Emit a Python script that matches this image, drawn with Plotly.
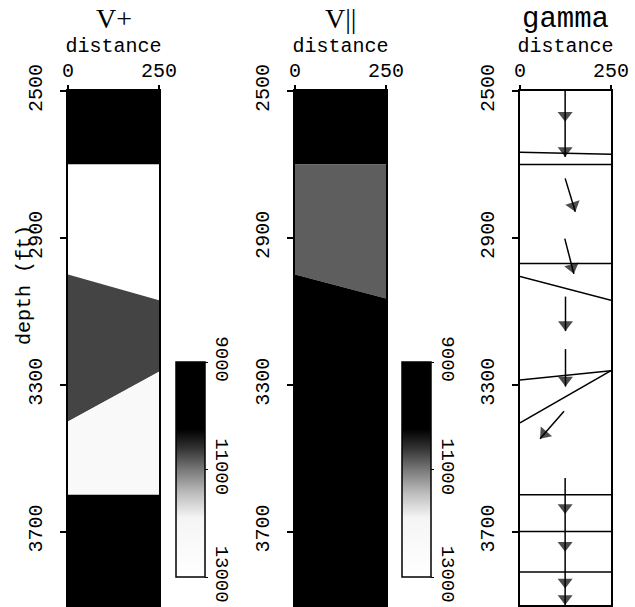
import numpy as np
import plotly.graph_objects as go

W, H = 635, 607

# ---------------- data ----------------
DIST_RANGE = [0, 250]
DIST_TICKS = [0, 250]
DEPTH_RANGE = [3900, 2500]
DEPTH_TICKS = [2500, 2900, 3300, 3700]

# V+ layers (depth of top/bottom at distance 0 and 250, velocity)
VP_TOP_0 = [2500, 2700, 3000, 3400, 3600]
VP_TOP_250 = [2500, 2700, 3070, 3265, 3600]
VP_BOT_0 = [2700, 3000, 3400, 3600, 3900]
VP_BOT_250 = [2700, 3070, 3265, 3600, 3900]
VP_VEL = [9000, 13000, 10700, 12300, 9000]

# V|| layers
VN_TOP_0 = [2500, 2700, 3000]
VN_TOP_250 = [2500, 2700, 3065]
VN_BOT_0 = [2700, 3000, 3900]
VN_BOT_250 = [2700, 3065, 3900]
VN_VEL = [9000, 10850, 9000]

# colour scale (velocity -> grey level)
CB_VALUES = [9000, 10250, 10600, 11000, 11450, 11900, 13000]
CB_GRAYS = [0, 0, 50, 120, 190, 245, 255]
CB_TICKS = [9000, 11000, 13000]

# gamma panel: boundary lines (depth at distance 0 and 250)
GAMMA_LINE_D0 = [2667, 2700, 2970, 3005, 3287, 3404, 3600, 3700, 3810]
GAMMA_LINE_D250 = [2672, 2700, 2970, 3070, 3262, 3262, 3600, 3700, 3810]

# gamma vectors: polylines, arrow head at every point after the first
ARROW_X = [[124, 124, 124], [124, 152], [123, 148], [125, 125], [125, 125],
           [121, 55], [124, 124, 124, 124, 124]]
ARROW_D = [[2500, 2584, 2680], [2738, 2829], [2902, 2998], [3060, 3154],
           [3203, 3305], [3372, 3447], [3554, 3652, 3755, 3855, 3900]]

TITLES = ["V+", "V||", "gamma"]
Y_TITLE = "depth (ft)"
X_TITLE = "distance"

# ---------------- layout geometry (pixels) ----------------
PANEL_X = [(68, 159), (295, 386), (520, 611)]
PANEL_Y = (91, 605)
CBAR_X = [176, 402]
CBAR_Y = (362, 577)

MONO = "Liberation Mono"
SERIF = "Liberation Serif"


def gray(v):
    g = int(round(np.interp(v, CB_VALUES, CB_GRAYS)))
    return f"rgb({g},{g},{g})"


# colorscale in negated space so that 9000 sits at the top of the bar
cs = []
for v, g in sorted(zip(CB_VALUES, CB_GRAYS), key=lambda t: -t[0]):
    pos = (13000 - v) / 4000.0
    cs.append([pos, f"rgb({g},{g},{g})"])

fig = go.Figure()


def add_layers(xa, ya, t0, t250, b0, b250, vel):
    for a, b, c, d, v in zip(t0, t250, b0, b250, vel):
        fig.add_trace(go.Scatter(
            x=[DIST_RANGE[0], DIST_RANGE[1], DIST_RANGE[1], DIST_RANGE[0]],
            y=[a, b, d, c], mode="lines", fill="toself",
            fillcolor=gray(v), line=dict(width=0, color=gray(v)),
            xaxis=xa, yaxis=ya, hoverinfo="skip", showlegend=False))


add_layers("x", "y", VP_TOP_0, VP_TOP_250, VP_BOT_0, VP_BOT_250, VP_VEL)
add_layers("x2", "y2", VN_TOP_0, VN_TOP_250, VN_BOT_0, VN_BOT_250, VN_VEL)

# colorbars (attached to invisible traces)
for i, cx in enumerate(CBAR_X):
    fig.add_trace(go.Scatter(
        x=[None], y=[None], mode="markers", xaxis=["x", "x2"][i], yaxis=["y", "y2"][i],
        showlegend=False, hoverinfo="skip",
        marker=dict(color=[-9000, -13000], colorscale=cs, cmin=-13000, cmax=-9000,
                    showscale=True,
                    colorbar=dict(
                        x=cx / W, xanchor="left", xpad=0,
                        y=1 - (CBAR_Y[0] + CBAR_Y[1]) / 2 / H, yanchor="middle", ypad=0,
                        len=CBAR_Y[1] - CBAR_Y[0], lenmode="pixels",
                        thickness=29, thicknessmode="pixels",
                        outlinewidth=1.5, outlinecolor="black",
                        tickvals=[-t for t in CB_TICKS], ticktext=[str(t) for t in CB_TICKS],
                        tickangle=90, ticks="outside", ticklen=3, tickwidth=1.2,
                        tickcolor="black",
                        tickfont=dict(family=MONO, size=19, color="black"),
                    ))))

# gamma boundaries
for d0, d1 in zip(GAMMA_LINE_D0, GAMMA_LINE_D250):
    fig.add_trace(go.Scatter(
        x=DIST_RANGE, y=[d0, d1], mode="lines", line=dict(color="black", width=1.5),
        xaxis="x3", yaxis="y3", hoverinfo="skip", showlegend=False))

# gamma arrows
for xs, ds in zip(ARROW_X, ARROW_D):
    sizes = [0] + [13] * (len(xs) - 1)
    fig.add_trace(go.Scatter(
        x=xs, y=ds, mode="lines+markers",
        line=dict(color="black", width=1.5, backoff=0),
        marker=dict(symbol="triangle-up", angleref="previous", size=sizes,
                    standoff=6.5, color="black", line=dict(width=0)),
        cliponaxis=False, xaxis="x3", yaxis="y3", hoverinfo="skip", showlegend=False))

axis_common = dict(showline=True, mirror=True, linecolor="black", linewidth=1.5,
                   ticks="outside", tickcolor="black", tickwidth=1.5,
                   showgrid=False, zeroline=False, automargin=False,
                   tickfont=dict(family=MONO, size=20, color="black"))

layout = dict(width=W, height=H, margin=dict(l=0, r=0, t=0, b=0, autoexpand=False),
              paper_bgcolor="white", plot_bgcolor="white", showlegend=False)

ydom = [1 - PANEL_Y[1] / H, 1 - PANEL_Y[0] / H]
for i, (x0, x1) in enumerate(PANEL_X):
    s = "" if i == 0 else str(i + 1)
    layout["xaxis" + s] = dict(axis_common, domain=[x0 / W, x1 / W], range=DIST_RANGE,
                               tickvals=DIST_TICKS, side="top", ticklen=4,
                               anchor="y" + s,
                               title=dict(text=X_TITLE, standoff=2,
                                          font=dict(family=MONO, size=20, color="black")))
    layout["yaxis" + s] = dict(axis_common, domain=ydom, range=DEPTH_RANGE,
                               tickvals=DEPTH_TICKS, tickangle=-90, ticklen=6,
                               anchor="x" + s, ticklabelstandoff=10)

fig.update_layout(**layout)

fig.add_annotation(text=Y_TITLE, xref="paper", yref="paper", x=24 / W, y=1 - 285 / H,
                   xanchor="center", yanchor="middle", textangle=-90, showarrow=False,
                   font=dict(family=MONO, size=20, color="black"))

for i, (x0, x1) in enumerate(PANEL_X):
    font = dict(family=SERIF if i < 2 else MONO, size=28 if i < 2 else 29, color="black")
    fig.add_annotation(text=TITLES[i], xref="paper", yref="paper",
                       x=(x0 + x1) / 2 / W, y=1 - (18 if i < 2 else 19) / H,
                       xanchor="center", yanchor="middle", showarrow=False, font=font)

fig.write_html("out.html")
